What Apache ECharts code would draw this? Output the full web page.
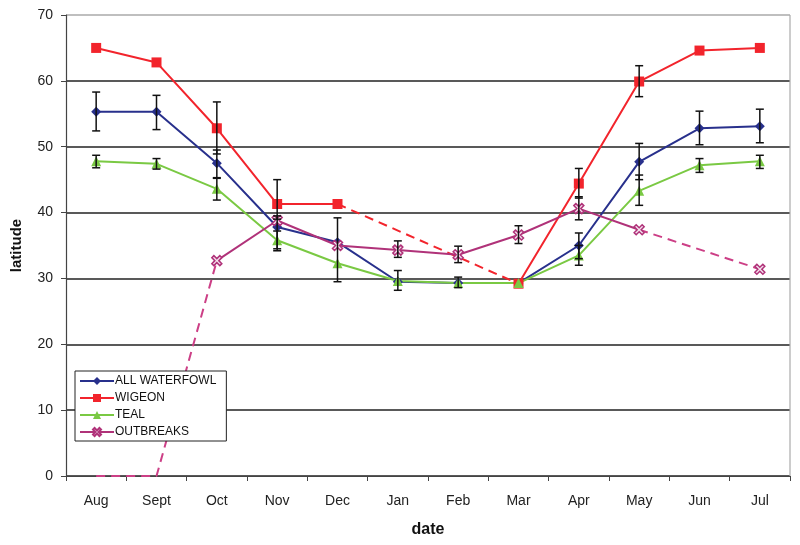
<!DOCTYPE html>
<html><head><meta charset="utf-8">
<script src="https://cdn.jsdelivr.net/npm/echarts@6/dist/echarts.min.js"></script>
<style>html,body{margin:0;padding:0;background:#fff}#c{width:800px;height:545px}</style>
</head><body><div id="c"></div>
<script>
var months = ['Aug','Sept','Oct','Nov','Dec','Jan','Feb','Mar','Apr','May','Jun','Jul'];
var yTicks = [0,10,20,30,40,50,60,70];
var waterfowl = [55.3,55.3,47.5,37.8,35.5,29.5,29.3,29.3,35.0,47.7,52.8,53.1];
var wigeon    = [65.0,62.8,52.8,41.3,41.3,null,null,29.2,44.4,59.9,64.6,65.0];
var teal      = [47.8,47.4,43.6,35.8,32.3,29.6,29.3,29.3,33.5,43.3,47.2,47.8];
var outbreaks = [0,0,32.7,38.8,35.0,34.3,33.6,36.6,40.6,37.4,null,31.4];
// error bars: [categoryIndex, low, high]
var waterfowlErr = [[0,52.4,58.3],[1,52.6,57.8],[2,45.2,49.5],[3,34.5,39.5],[4,29.5,39.2],[5,28.2,31.2],[6,28.6,30.2],[8,33.0,36.9],[9,45.0,50.5],[10,50.3,55.4],[11,50.6,55.7]];
var wigeonErr    = [[2,48.9,56.8],[3,39.0,45.0],[8,42.2,46.7],[9,57.6,62.3]];
var tealErr      = [[0,46.8,48.7],[1,46.6,48.2],[2,41.9,45.3],[3,34.2,37.2],[8,32.0,35.0],[9,41.1,45.7],[10,46.1,48.2],[11,46.7,48.7]];
var outbreakErr  = [[5,33.2,35.7],[6,32.4,34.9],[7,35.3,38.0],[8,38.9,42.4]];

var C_BLUE='#28308c', C_RED='#f2242c', C_GREEN='#7ac943', C_PINK='#b03279', C_PINK2='#cc3f86';
var xPath = 'path://M2,0 L5,3 L8,0 L10,2 L7,5 L10,8 L8,10 L5,7 L2,10 L0,8 L3,5 L0,2 Z';

function part(arr, from, to){
  return arr.map(function(v,i){ return (i>=from && i<=to) ? v : null; });
}
function errSeries(name, data){
  return {
    name: name, type:'custom', z: 5, silent:true,
    data: data,
    renderItem: function(params, api){
      var x = api.value(0), lo = api.value(1), hi = api.value(2);
      var p1 = api.coord([x, lo]), p2 = api.coord([x, hi]);
      var w = 4;
      var st = {stroke:'#111', lineWidth:1.5};
      return {type:'group', children:[
        {type:'line', shape:{x1:p1[0],y1:p1[1],x2:p2[0],y2:p2[1]}, style:st},
        {type:'line', shape:{x1:p1[0]-w,y1:p1[1],x2:p1[0]+w,y2:p1[1]}, style:st},
        {type:'line', shape:{x1:p2[0]-w,y1:p2[1],x2:p2[0]+w,y2:p2[1]}, style:st}
      ]};
    },
    encode:{x:0, y:[1,2]}
  };
}

var chart = echarts.init(document.getElementById('c'), null, {renderer:'canvas'});
chart.setOption({
  animation:false,
  textStyle:{fontFamily:'Liberation Sans, Arial, sans-serif'},
  grid:{left:66, right:10, top:15, bottom:69, show:false},
  legend:{
    orient:'vertical', left:75, top:371, width:151,
    data:['ALL WATERFOWL','WIGEON','TEAL','OUTBREAKS'],
    itemWidth:34, itemHeight:10, itemGap:5,
    padding:[4,10,3,4],
    borderColor:'#222', borderWidth:1, backgroundColor:'#fff',
    textStyle:{fontSize:12, color:'#111', fontFamily:'Liberation Sans, Arial, sans-serif', padding:[0,0,0,-4]}
  },
  xAxis:{
    type:'category', data:months, boundaryGap:true,
    axisLine:{lineStyle:{color:'#444', width:1.2}},
    axisTick:{show:true, length:5, inside:false, lineStyle:{color:'#444'}},
    axisLabel:{fontSize:14, color:'#222', margin:18},
    name:'date', nameLocation:'middle', nameGap:46,
    nameTextStyle:{fontSize:16, fontWeight:'bold', color:'#111'}
  },
  yAxis:{
    type:'value', min:0, max:70, interval:10,
    axisLine:{show:true, lineStyle:{color:'#444', width:1.2}},
    axisTick:{show:true, length:5, lineStyle:{color:'#444'}},
    axisLabel:{fontSize:14, color:'#222', margin:13},
    splitLine:{show:true, lineStyle:{color:['#222','#222','#222','#222','#222','#222','#222','#aaa'], width:1.5}},
    name:'latitude', nameLocation:'middle', nameGap:42, nameRotate:90,
    nameTextStyle:{fontSize:15, fontWeight:'bold', color:'#111'}
  },
  graphic:[{type:'line', shape:{x1:790,y1:15,x2:790,y2:476}, style:{stroke:'#aaa', lineWidth:1.2}, z:1}],
  series:[
    {name:'WIGEON dash', type:'line', data:part(wigeon,4,7), connectNulls:true, symbol:'none',
     lineStyle:{color:C_RED, width:2, type:[9,6]}, z:2},
    {name:'OUTBREAKS dash1', type:'line', data:part(outbreaks,0,2), symbol:'none',
     lineStyle:{color:C_PINK2, width:2, type:[9,6]}, z:2},
    {name:'OUTBREAKS dash2', type:'line', data:part(outbreaks,9,11), connectNulls:true, symbol:'none',
     lineStyle:{color:C_PINK2, width:2, type:[9,6]}, z:2},
    {name:'ALL WATERFOWL', type:'line', data:waterfowl, symbol:'diamond', symbolSize:10,
     itemStyle:{color:C_BLUE}, lineStyle:{color:C_BLUE, width:2}, z:3},
    {name:'WIGEON', type:'line', data:wigeon, symbol:'rect', symbolSize:10, connectNulls:false,
     itemStyle:{color:C_RED}, lineStyle:{color:C_RED, width:2}, z:3},
    {name:'TEAL', type:'line', data:teal, symbol:'triangle', symbolSize:10,
     itemStyle:{color:C_GREEN}, lineStyle:{color:C_GREEN, width:2}, z:3},
    {name:'OUTBREAKS', type:'line', data:part(outbreaks,2,9), symbol:xPath, symbolSize:10,
     itemStyle:{color:'#f3e3ee', borderColor:C_PINK, borderWidth:1.5}, lineStyle:{color:C_PINK, width:2}, z:4},
    {name:'OUTBREAKS end', type:'line', data:part(outbreaks,11,11), symbol:xPath, symbolSize:10,
     itemStyle:{color:'#f3e3ee', borderColor:C_PINK, borderWidth:1.5}, lineStyle:{width:0}, z:4},
    errSeries('e1', waterfowlErr),
    errSeries('e2', wigeonErr),
    errSeries('e3', tealErr),
    errSeries('e4', outbreakErr)
  ]
});
</script></body></html>
